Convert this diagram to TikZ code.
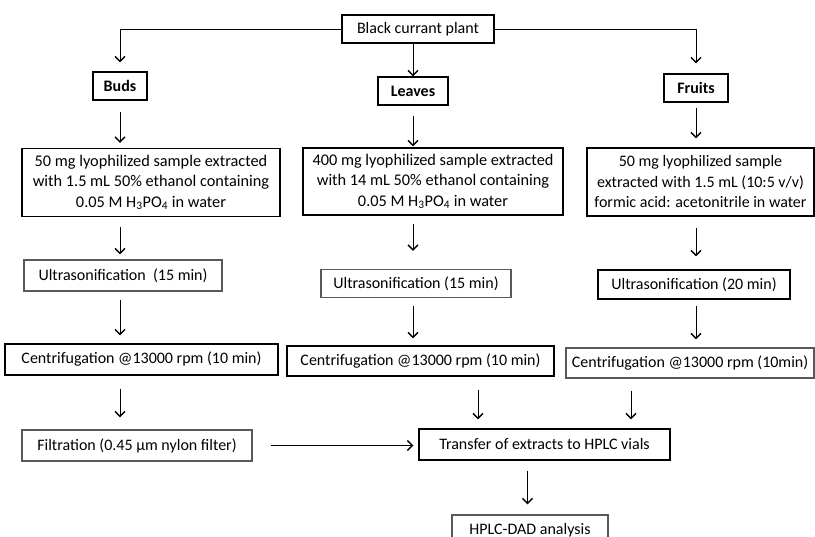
\documentclass[tikz,border=0pt]{standalone}
\usepackage{fontspec}
\setmainfont{Carlito}
\usepackage{tikz}
\usetikzlibrary{arrows.meta}
\tikzstyle{source} = [rectangle, minimum width=152pt, minimum height=28pt, text centered, draw=black, line width=1.1pt]
\tikzstyle{part} = [rectangle, minimum height=28pt, text centered, draw=black, line width=1.1pt, font=\bfseries]
\tikzstyle{extract} = [rectangle, minimum height=68pt, align=center, draw=black, line width=1.1pt]
\tikzstyle{stage} = [rectangle, minimum height=30pt, text centered, draw=black, line width=1.1pt]
\tikzstyle{arrow} = [line width=0.9pt, -{Straight Barb[length=5pt,width=10pt,line width=1.4pt]}]

\begin{document}
\fontsize{16}{20.5}\selectfont
\begin{tikzpicture}[x=1pt, y=-1pt]
\useasboundingbox (0,0) rectangle (815,537);

\node (plant)[source] at (418,29) {Black currant plant};
\node (buds)[part, minimum width=54pt] at (120,86) {Buds};
\node (leaves)[part, minimum width=70pt] at (413,91) {Leaves};
\node (fruits)[part, minimum width=64pt] at (696,88) {Fruits};
\draw [arrow] (plant.west) -| ([yshift=9pt]buds.north);
\draw [arrow] (plant.east) -| ([yshift=10pt]fruits.north);
\draw [arrow] (plant.south -| leaves.north) -- (leaves.north);

\node (ext1)[extract, minimum width=258pt, font=\fontsize{16.3}{20.5}\selectfont] at (151,182.5) {50 mg lyophilized sample extracted\\with 1.5 mL 50\% ethanol containing\\0.05 M H\textsubscript{3}PO\textsubscript{4} in water};
\node (ext2)[extract, minimum width=260pt, minimum height=67pt, font=\fontsize{16.3}{20.5}\selectfont] at (433,181.5) {400 mg lyophilized sample extracted\\with 14 mL 50\% ethanol containing\\0.05 M H\textsubscript{3}PO\textsubscript{4} in water};
\node (ext3)[extract, minimum width=227pt] at (700.5,182) {50 mg lyophilized sample\\extracted with 1.5 mL (10:5 v/v)\\formic acid: acetonitrile in water};
\draw [arrow, shorten <=11pt, shorten >=5pt] (buds.south) -- (buds.south |- ext1.north);
\draw [arrow, shorten <=10pt, shorten >=1pt] (leaves.south) -- (leaves.south |- ext2.north);
\draw [arrow, shorten <=5pt, shorten >=9pt] (fruits.south) -- (fruits.south |- ext3.north);

\node (ult1)[stage, draw=black!65, minimum width=198pt, minimum height=31pt] at (123,275.5) {Ultrasonification\ \ (15 min)};
\node (ult2)[stage, draw=black!65, minimum width=190pt, minimum height=28pt] at (416,283.5) {Ultrasonification (15 min)};
\node (ult3)[stage, minimum width=192pt, minimum height=29pt] at (694,284.5) {Ultrasonification (20 min)};
\draw [arrow, shorten <=10pt, shorten >=5pt] (buds.south |- ext1.south) -- (buds.south |- ult1.north);
\draw [arrow, shorten <=8pt, shorten >=18pt] (leaves.south |- ext2.south) -- (leaves.south |- ult2.north);
\draw [arrow, shorten <=11pt, shorten >=13pt] (fruits.south |- ext3.south) -- (fruits.south |- ult3.north);

\node (cen1)[stage, minimum width=273pt, minimum height=31pt] at (141.5,359.5) {Centrifugation @13000 rpm (10 min)};
\node (cen2)[stage, minimum width=267pt] at (420.5,361) {Centrifugation @13000 rpm (10 min)};
\node (cen3)[stage, draw=black!65, minimum width=248pt] at (690,363) {Centrifugation @13000 rpm (10min)};
\draw [arrow, shorten <=8pt, shorten >=8pt] (buds.south |- ult1.south) -- (buds.south |- cen1.north);
\draw [arrow, shorten <=8pt, shorten >=7pt] (leaves.south |- ult2.south) -- (leaves.south |- cen2.north);
\draw [arrow, shorten <=6pt, shorten >=8pt] (fruits.south |- ult3.south) -- (fruits.south |- cen3.north);

\node (fil)[stage, draw=black!65, minimum width=230pt, minimum height=31pt] at (137,445.5) {Filtration (0.45 µm nylon filter)};
\node (tra)[stage, minimum width=251pt, minimum height=31pt] at (544.5,444.5) {Transfer of extracts to HPLC vials};
\node (hplc)[stage, draw=black!65, minimum width=156pt] at (530,530) {HPLC-DAD analysis};
\draw [arrow, shorten <=13pt, shorten >=12pt] (buds.south |- cen1.south) -- (buds.south |- fil.north);
\draw [arrow, shorten <=13pt, shorten >=9pt] ([xshift=57.5pt]cen2.south) -- ([xshift=57.5pt]cen2.south |- tra.north);
\draw [arrow, shorten <=12pt, shorten >=9pt] ([xshift=-59pt]cen3.south) -- ([xshift=-59pt]cen3.south |- tra.north);
\draw [arrow, shorten <=18pt, shorten >=5pt] (fil.east) -- (fil.east -| tra.west);
\draw [arrow, shorten <=10pt, shorten >=10pt] ([xshift=-17pt]tra.south) -- ([xshift=-17pt]tra.south |- hplc.north);

\end{tikzpicture}
\end{document}
